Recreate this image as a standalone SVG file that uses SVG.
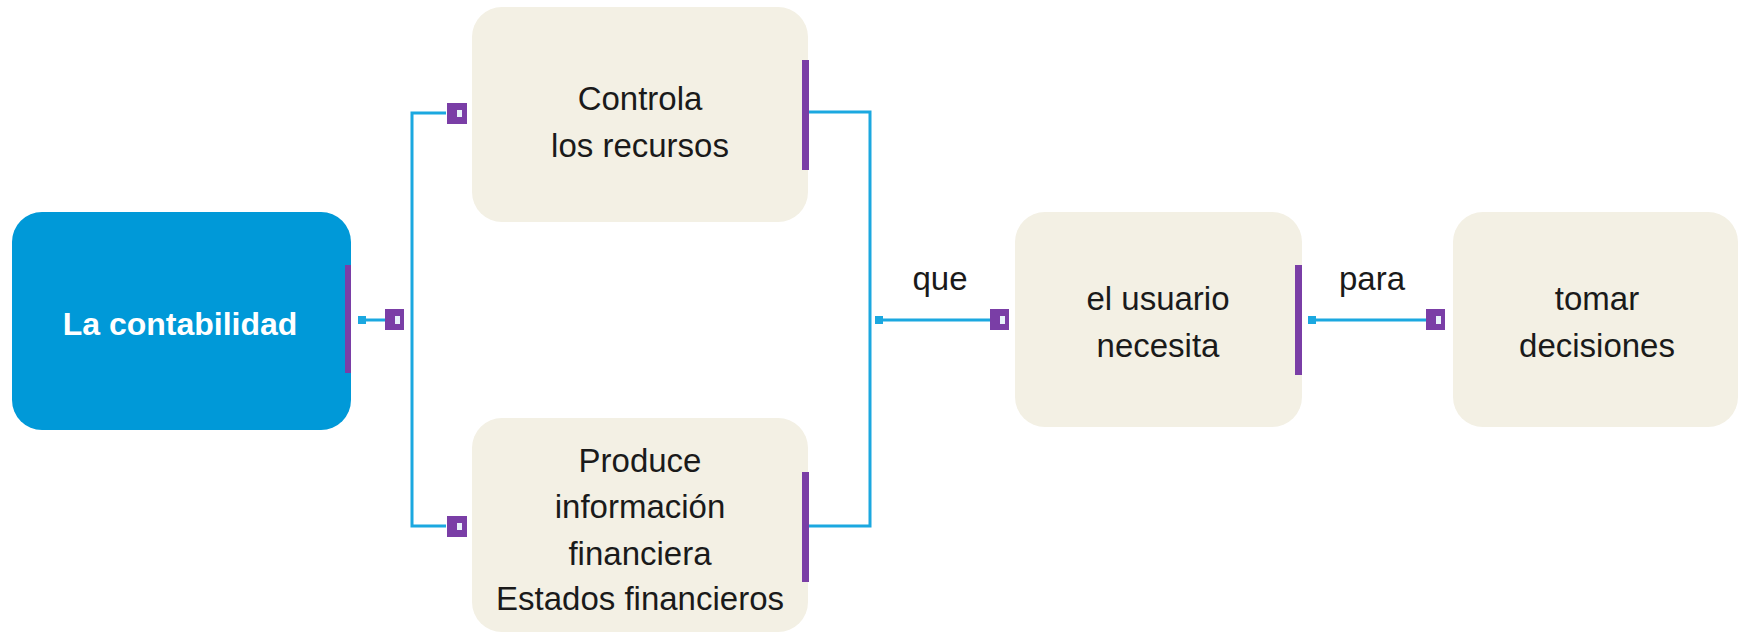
<svg xmlns="http://www.w3.org/2000/svg" width="1744" height="633" viewBox="0 0 1744 633">
<style>
.box{fill:#f3f0e4}
.main{fill:#0099d8}
.bar{fill:#7a3ea6}
.t{font-family:"Liberation Sans",Arial,sans-serif;font-size:33px;fill:#1a1a1a;text-anchor:middle}
.tw{font-family:"Liberation Sans",Arial,sans-serif;font-size:32px;font-weight:bold;fill:#ffffff;text-anchor:middle}
.ln{fill:none;stroke:#1ba8e0;stroke-width:3}
.dot{fill:#1ba8e0}
.br{fill:#7a3ea6}
.hole{fill:#e8f2fa}
</style>
<rect width="1744" height="633" fill="#ffffff"/>
<g id="connectors">
  <line class="ln" x1="362" y1="320" x2="390" y2="320"/>
  <rect class="dot" x="358" y="316" width="8" height="8"/>
  <polyline class="ln" points="446,113 412,113 412,526 446,526"/>
  <polyline class="ln" points="809,112 870,112 870,526 809,526"/>
  <line class="ln" x1="879" y1="320" x2="995" y2="320"/>
  <rect class="dot" x="875" y="316" width="8" height="8"/>
  <text class="t" x="940" y="290">que</text>
  <line class="ln" x1="1312" y1="320" x2="1430" y2="320"/>
  <rect class="dot" x="1308" y="316" width="8" height="8"/>
  <text class="t" x="1372" y="290">para</text>
  <rect class="br" x="385" y="309" width="19" height="21"/>
  <rect class="hole" x="395" y="316" width="5" height="8"/>
  <rect class="br" x="447" y="103" width="20" height="21"/>
  <rect class="hole" x="457" y="110" width="5" height="7"/>
  <rect class="br" x="447" y="516" width="20" height="21"/>
  <rect class="hole" x="457" y="523" width="5" height="7"/>
  <rect class="br" x="990" y="309" width="19" height="21"/>
  <rect class="hole" x="1000" y="316" width="5" height="8"/>
  <rect class="br" x="1426" y="309" width="19" height="21"/>
  <rect class="hole" x="1436" y="316" width="5" height="8"/>
</g>
<g id="n-contabilidad">
  <rect class="main" x="12" y="212" width="339" height="218" rx="30"/>
  <rect class="bar" x="345" y="265" width="6" height="108"/>
  <text class="tw" x="180" y="335">La contabilidad</text>
</g>
<g id="n-controla">
  <rect class="box" x="472" y="7" width="336" height="215" rx="30"/>
  <rect class="bar" x="802" y="60" width="7" height="110"/>
  <text class="t" x="640" y="110">Controla</text>
  <text class="t" x="640" y="157">los recursos</text>
</g>
<g id="n-produce">
  <rect class="box" x="472" y="418" width="336" height="214" rx="30"/>
  <rect class="bar" x="802" y="472" width="7" height="110"/>
  <text class="t" x="640" y="472">Produce</text>
  <text class="t" x="640" y="518">información</text>
  <text class="t" x="640" y="565">financiera</text>
  <text class="t" x="640" y="610">Estados financieros</text>
</g>
<g id="n-usuario">
  <rect class="box" x="1015" y="212" width="287" height="215" rx="30"/>
  <rect class="bar" x="1295" y="265" width="7" height="110"/>
  <text class="t" x="1158" y="310">el usuario</text>
  <text class="t" x="1158" y="357">necesita</text>
</g>
<g id="n-decisiones">
  <rect class="box" x="1453" y="212" width="285" height="215" rx="30"/>
  <text class="t" x="1597" y="310">tomar</text>
  <text class="t" x="1597" y="357">decisiones</text>
</g>
</svg>
